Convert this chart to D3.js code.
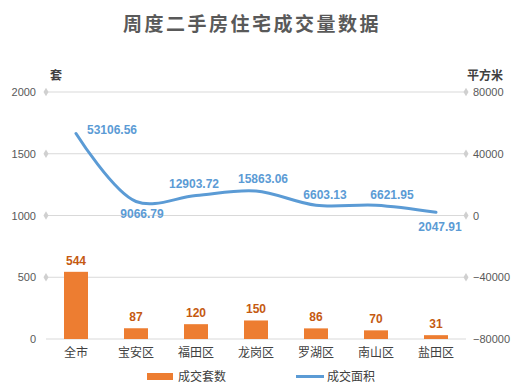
<!DOCTYPE html>
<html>
<head>
<meta charset="utf-8">
<script src="https://cdn.jsdelivr.net/npm/d3@7"></script>
<style>
  body { margin: 0; background: #fff; }
  svg { font-family: "Noto Sans CJK SC", "Noto Sans", sans-serif; }
</style>
</head>
<body>
<div id="chart"></div>
<script>
const districts = ['全市', '宝安区', '福田区', '龙岗区', '罗湖区', '南山区', '盐田区'];
const units = [544, 87, 120, 150, 86, 70, 31];
const areas = [53106.56, 9066.79, 12903.72, 15863.06, 6603.13, 6621.95, 2047.91];
const leftTicks = [0, 500, 1000, 1500, 2000];
const rightTicks = [-80000, -40000, 0, 40000, 80000];

// label offsets for the area line (dx, dy from the point)
const areaLabelPos = [[36, -4], [6, 12], [-2, -12], [7, -12], [9, -11], [16, -10], [4, 14]];

const W = 527, H = 388;
const margin = {top: 92, right: 61, bottom: 49, left: 46};
const width = W - margin.left - margin.right,
      height = H - margin.top - margin.bottom;

const svg = d3.select("#chart").append("svg")
    .attr("width", W).attr("height", H);

// title
svg.append("text")
    .attr("x", 252).attr("y", 31)
    .attr("text-anchor", "middle")
    .attr("font-size", 19)
    .attr("letter-spacing", 2.5)
    .attr("font-weight", "bold")
    .attr("fill", "#595959")
    .text("周度二手房住宅成交量数据");

const g = svg.append("g").attr("transform", `translate(${margin.left},${margin.top})`);

const x = d3.scaleBand().domain(districts).range([0, width]).paddingInner(0.6).paddingOuter(0.3);
const yL = d3.scaleLinear().domain([0, 2000]).range([height, 0]);
const yR = d3.scaleLinear().domain([-80000, 80000]).range([height, 0]);

// gridlines
g.selectAll(".grid").data(leftTicks).join("line")
    .attr("x1", 0).attr("x2", width)
    .attr("y1", d => yL(d)).attr("y2", d => yL(d))
    .attr("stroke", "#d9d9d9").attr("stroke-width", 1);

const diamond = d3.symbol().type(d3.symbolDiamond).size(22);
g.selectAll(".dl").data(leftTicks.filter(d => d > 0)).join("path")
    .attr("d", diamond)
    .attr("transform", d => `translate(0,${yL(d)})`)
    .attr("fill", "#d0d0d0");
g.selectAll(".dr").data(rightTicks.filter(d => d > -80000)).join("path")
    .attr("d", diamond)
    .attr("transform", d => `translate(${width},${yR(d)})`)
    .attr("fill", "#d0d0d0");

// axes
const axL = g.append("g").call(d3.axisLeft(yL).tickValues(leftTicks).tickFormat(d3.format("d")).tickSize(0).tickPadding(10));
const axR = g.append("g").attr("transform", `translate(${width},0)`)
    .call(d3.axisRight(yR).tickValues(rightTicks).tickFormat(d3.format("d")).tickSize(0).tickPadding(7));
[axL, axR].forEach(a => {
  a.select(".domain").remove();
  a.selectAll("text").attr("font-size", 11).attr("fill", "#595959")
    .attr("font-family", "Liberation Sans, Arial, sans-serif");
});

const axX = g.append("g").attr("transform", `translate(0,${height})`)
    .call(d3.axisBottom(x).tickSize(0).tickPadding(9));
axX.select(".domain").remove();
axX.selectAll("text").attr("font-size", 12).attr("fill", "#404040")
    .attr("font-family", "Noto Sans CJK SC");

// unit labels
svg.append("text").attr("x", 56).attr("y", 80).attr("text-anchor", "middle")
    .attr("font-size", 12).attr("font-weight", "bold").attr("fill", "#404040").text("套");
svg.append("text").attr("x", 485).attr("y", 80).attr("text-anchor", "middle")
    .attr("font-size", 12).attr("font-weight", "bold").attr("fill", "#404040").text("平方米");

// bars
g.selectAll(".bar").data(districts).join("rect")
    .attr("x", d => x(d))
    .attr("y", (d, i) => yL(units[i]))
    .attr("width", x.bandwidth())
    .attr("height", (d, i) => height - yL(units[i]))
    .attr("fill", "#ed7d31");

g.selectAll(".barlabel").data(districts).join("text")
    .attr("x", d => x(d) + x.bandwidth() / 2)
    .attr("y", (d, i) => yL(units[i]) - 7)
    .attr("text-anchor", "middle")
    .attr("font-size", 12).attr("font-weight", "bold")
    .attr("font-family", "Liberation Sans, Arial, sans-serif")
    .attr("fill", "#c55a11")
    .text((d, i) => units[i]);

// area line
const cx = d => x(d) + x.bandwidth() / 2;
const line = d3.line()
    .x(d => cx(d))
    .y((d, i) => yR(areas[i]))
    .curve(d3.curveCatmullRom.alpha(0.5));

g.append("path")
    .datum(districts)
    .attr("d", line)
    .attr("fill", "none")
    .attr("stroke", "#5b9bd5")
    .attr("stroke-width", 3)
    .attr("stroke-linecap", "round");

g.selectAll(".arealabel").data(districts).join("text")
    .attr("x", (d, i) => cx(d) + areaLabelPos[i][0])
    .attr("y", (d, i) => yR(areas[i]) + areaLabelPos[i][1])
    .attr("dy", "0.35em")
    .attr("text-anchor", "middle")
    .attr("font-size", 12).attr("font-weight", "bold")
    .attr("font-family", "Liberation Sans, Arial, sans-serif")
    .attr("fill", "#5b9bd5")
    .text((d, i) => areas[i].toFixed(2));

// legend
const lg = svg.append("g");
lg.append("rect").attr("x", 147).attr("y", 373).attr("width", 26).attr("height", 7).attr("fill", "#ed7d31");
lg.append("text").attr("x", 178).attr("y", 381).attr("font-size", 12).attr("fill", "#404040").text("成交套数");
lg.append("line").attr("x1", 296).attr("x2", 324).attr("y1", 376.5).attr("y2", 376.5)
    .attr("stroke", "#5b9bd5").attr("stroke-width", 3);
lg.append("text").attr("x", 327).attr("y", 381).attr("font-size", 12).attr("fill", "#404040").text("成交面积");
</script>
</body>
</html>
